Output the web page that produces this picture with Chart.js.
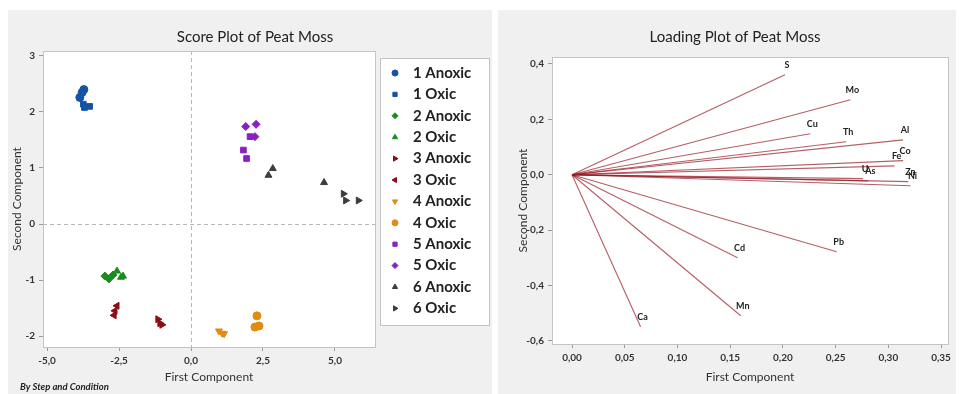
<!DOCTYPE html>
<html>
<head>
<meta charset="utf-8">
<script src="https://cdn.jsdelivr.net/npm/chart.js@4.4.1/dist/chart.umd.min.js"></script>
<style>
  html, body { margin: 0; padding: 0; background: #ffffff; width: 959px; height: 394px; overflow: hidden; }
  .panel { position: absolute; background: #f0f0f0; }
  canvas { display: block; }
</style>
</head>
<body>
<div class="panel" style="left:8px;top:10px;width:484px;height:384px"><canvas id="scorePlot" width="484" height="384"></canvas></div>
<div class="panel" style="left:498px;top:10px;width:458px;height:384px"><canvas id="loadingPlot" width="458" height="384"></canvas></div>
<script>
// ---- Score plot: sample groups (step and condition) ----
const groupNames = ['1 Anoxic', '1 Oxic', '2 Anoxic', '2 Oxic', '3 Anoxic', '3 Oxic',
                    '4 Anoxic', '4 Oxic', '5 Anoxic', '5 Oxic', '6 Anoxic', '6 Oxic'];

// First-component scores for each group
const scoreFirst = [
  [-3.72, -3.78, -3.86],
  [-3.74, -3.70, -3.52],
  [-2.99, -2.85, -2.71],
  [-2.57, -2.43, -2.36],
  [-1.15, -1.08, -1.01],
  [-2.57, -2.64, -2.67],
  [0.97, 1.08, 1.15],
  [2.29, 2.22, 2.36],
  [1.82, 1.93, 2.05],
  [1.90, 2.26, 2.22],
  [2.69, 2.84, 4.62],
  [5.29, 5.37, 5.81]
];

// Second-component scores for each group
const scoreSecond = [
  [2.40, 2.35, 2.26],
  [2.14, 2.08, 2.10],
  [-0.93, -0.98, -0.91],
  [-0.84, -0.95, -0.93],
  [-1.70, -1.77, -1.80],
  [-1.46, -1.55, -1.63],
  [-1.91, -1.95, -1.96],
  [-1.64, -1.84, -1.82],
  [1.32, 1.17, 1.56],
  [1.74, 1.78, 1.56],
  [0.87, 0.99, 0.74],
  [0.54, 0.42, 0.42]
];

const scoreXTicks = [-5, -2.5, 0, 2.5, 5];
const scoreXTickLabels = ['-5,0', '-2,5', '0,0', '2,5', '5,0'];
const scoreYTicks = [-2, -1, 0, 1, 2, 3];
const scoreYTickLabels = ['-2', '-1', '0', '1', '2', '3'];

// ---- Loading plot: elements ----
const elements = ['S', 'Mo', 'Cu', 'Th', 'Al', 'Co', 'Fe', 'U', 'As', 'Zn', 'Ni', 'Pb', 'Cd', 'Mn', 'Ca'];
const loadingFirst  = [0.202, 0.264, 0.226, 0.260, 0.314, 0.314, 0.306, 0.276, 0.281, 0.319, 0.321, 0.251, 0.157, 0.160, 0.065];
const loadingSecond = [0.361, 0.271, 0.148, 0.119, 0.126, 0.051, 0.032, -0.014, -0.022, -0.025, -0.040, -0.278, -0.300, -0.509, -0.549];

const loadXTicks = [0, 0.05, 0.10, 0.15, 0.20, 0.25, 0.30, 0.35];
const loadXTickLabels = ['0,00', '0,05', '0,10', '0,15', '0,20', '0,25', '0,30', '0,35'];
const loadYTicks = [-0.6, -0.4, -0.2, 0, 0.2, 0.4];
const loadYTickLabels = ['-0,6', '-0,4', '-0,2', '0,0', '0,2', '0,4'];

// ---- Styling ----
const stepColors = ['#1553a6', '#1553a6', '#1b8c1d', '#1b8c1d', '#8e0c14', '#8e0c14',
                    '#e08b12', '#e08b12', '#8b1fc4', '#8b1fc4', '#3d3d3d', '#3d3d3d'];
const groupSymbols = ['circle', 'rect', 'rectRot', 'triangle', 'triangle', 'triangle',
                      'triangle', 'circle', 'rect', 'rectRot', 'triangle', 'triangle'];
const groupRotation = [0, 0, 0, 0, 90, -90, 180, 0, 0, 0, 0, 90];

const FONT = 'Lato, "Open Sans", sans-serif';
Chart.defaults.font.family = FONT;
Chart.defaults.color = '#333';

// Pin axis sizes so the plot area lands where it should
function fixedAxis(size) {
  return scale => {
    if (scale.isHorizontal()) scale.height = size; else scale.width = size;
    scale.paddingLeft = scale.paddingRight = scale.paddingTop = scale.paddingBottom = 0;
  };
}
function setTicks(values) {
  return scale => { scale.ticks = values.map(v => ({ value: v })); };
}
function axis(min, max, tickValues, tickLabels, size, titleText, titlePad) {
  return {
    type: 'linear', min, max,
    afterBuildTicks: setTicks(tickValues),
    afterFit: fixedAxis(size),
    border: { display: false },
    grid: { drawOnChartArea: false, drawTicks: true, tickLength: 4, tickColor: '#9a9a9a' },
    ticks: {
      autoSkip: false, maxRotation: 0, padding: 4, color: '#333',
      font: { size: 10, weight: 'bold' },
      callback: (v, i) => tickLabels[i]
    },
    title: { display: true, text: titleText, color: '#333', font: { size: 12 }, padding: titlePad }
  };
}

// White plot area, light frame, optional dashed zero reference lines
const plotFrame = {
  id: 'plotFrame',
  beforeDraw(chart) {
    const { ctx, chartArea: a } = chart;
    ctx.save();
    ctx.fillStyle = '#ffffff';
    ctx.fillRect(a.left, a.top, a.right - a.left, a.bottom - a.top);
    ctx.restore();
  },
  beforeDatasetsDraw(chart, args, opts) {
    const { ctx, chartArea: a, scales: { x, y } } = chart;
    ctx.save();
    if (opts.zeroLines) {
      ctx.strokeStyle = '#b8b8b8';
      ctx.lineWidth = 1;
      ctx.setLineDash([4, 3]);
      const x0 = Math.round(x.getPixelForValue(0)) + 0.5;
      const y0 = Math.round(y.getPixelForValue(0)) + 0.5;
      ctx.beginPath();
      ctx.moveTo(x0, a.top); ctx.lineTo(x0, a.bottom);
      ctx.moveTo(a.left, y0); ctx.lineTo(a.right, y0);
      ctx.stroke();
      ctx.setLineDash([]);
    }
    ctx.strokeStyle = '#c4c4c4';
    ctx.lineWidth = 1;
    ctx.strokeRect(Math.round(a.left) + 0.5, Math.round(a.top) + 0.5,
                   Math.round(a.right - a.left), Math.round(a.bottom - a.top));
    ctx.restore();
  }
};

// Chart heading drawn over the panel
const heading = {
  id: 'heading',
  afterDraw(chart, args, opts) {
    const ctx = chart.ctx;
    ctx.save();
    ctx.font = '15px ' + FONT;
    ctx.fillStyle = '#222';
    ctx.textAlign = 'center';
    ctx.textBaseline = 'middle';
    ctx.fillText(opts.text, opts.x, opts.y);
    if (opts.note) {
      ctx.font = 'italic bold 9.5px ' + FONT;
      ctx.textAlign = 'left';
      ctx.fillText(opts.note, opts.noteX, opts.noteY);
    }
    ctx.restore();
  }
};

// Boxed group legend to the right of the score plot
const groupLegend = {
  id: 'groupLegend',
  afterDraw(chart, args, opts) {
    const ctx = chart.ctx;
    const H = Chart.helpers;
    ctx.save();
    ctx.fillStyle = '#ffffff';
    ctx.fillRect(opts.left, opts.top, opts.width, opts.height);
    ctx.strokeStyle = '#c4c4c4';
    ctx.lineWidth = 1;
    ctx.strokeRect(opts.left + 0.5, opts.top + 0.5, opts.width, opts.height);
    ctx.font = 'bold 15px ' + FONT;
    ctx.textBaseline = 'middle';
    ctx.textAlign = 'left';
    chart.data.datasets.forEach((ds, i) => {
      const cy = opts.firstY + i * opts.step;
      ctx.fillStyle = ds.backgroundColor;
      ctx.strokeStyle = ds.borderColor;
      H.drawPoint(ctx, { pointStyle: ds.pointStyle, rotation: ds.pointRotation, radius: 3, borderWidth: 1 }, opts.markerX, cy);
      ctx.fillStyle = '#222';
      ctx.fillText(ds.label, opts.textX, cy);
    });
    ctx.restore();
  }
};

// Element names at the tips of the loading vectors
const vectorLabels = {
  id: 'vectorLabels',
  afterDatasetsDraw(chart) {
    const { ctx, scales: { x, y } } = chart;
    ctx.save();
    ctx.font = 'bold 9px ' + FONT;
    ctx.fillStyle = '#222';
    ctx.textAlign = 'center';
    ctx.textBaseline = 'middle';
    elements.forEach((name, i) => {
      ctx.fillText(name, x.getPixelForValue(loadingFirst[i]) + 2, y.getPixelForValue(loadingSecond[i]) - 10);
    });
    ctx.restore();
  }
};

// ---- Score plot ----
const scoreDatasets = groupNames.map((name, g) => ({
  label: name,
  data: scoreFirst[g].map((v, k) => ({ x: v, y: scoreSecond[g][k] })),
  backgroundColor: stepColors[g],
  borderColor: stepColors[g],
  pointStyle: groupSymbols[g],
  pointRotation: groupRotation[g],
  pointRadius: 4,
  pointBorderWidth: 1
}));

new Chart(document.getElementById('scorePlot'), {
  type: 'scatter',
  data: { datasets: scoreDatasets },
  plugins: [plotFrame, heading, groupLegend],
  options: {
    responsive: false, animation: false, devicePixelRatio: 1,
    layout: { padding: { left: 0, top: 41, right: 117, bottom: 6 } },
    scales: {
      x: axis(-5.139, 6.389, scoreXTicks, scoreXTickLabels, 41, 'First Component', { top: 4, bottom: 4 }),
      y: axis(-2.196, 3.089, scoreYTicks, scoreYTickLabels, 35, 'Second Component', { top: 2, bottom: 4 })
    },
    plugins: {
      legend: { display: false },
      tooltip: { enabled: false },
      plotFrame: { zeroLines: true },
      heading: { text: 'Score Plot of Peat Moss', x: 247, y: 27, note: 'By Step and Condition', noteX: 12, noteY: 377 },
      groupLegend: { left: 372, top: 48, width: 109, height: 267, markerX: 387, textX: 405, firstY: 63, step: 21.4 }
    }
  }
});

// ---- Loading plot ----
const loadingDatasets = elements.map((name, i) => ({
  label: name,
  data: [{ x: 0, y: 0 }, { x: loadingFirst[i], y: loadingSecond[i] }],
  showLine: true,
  borderColor: 'rgba(150, 25, 35, 0.7)',
  borderWidth: 1.1,
  pointRadius: 0
}));

new Chart(document.getElementById('loadingPlot'), {
  type: 'scatter',
  data: { datasets: loadingDatasets },
  plugins: [plotFrame, heading, vectorLabels],
  options: {
    responsive: false, animation: false, devicePixelRatio: 1,
    layout: { padding: { left: 14, top: 47, right: 8, bottom: 6 } },
    scales: {
      x: axis(-0.019, 0.3566, loadXTicks, loadXTickLabels, 44, 'First Component', { top: 4, bottom: 4 }),
      y: axis(-0.611, 0.425, loadYTicks, loadYTickLabels, 40, 'Second Component', { top: 4, bottom: 4 })
    },
    plugins: {
      legend: { display: false },
      tooltip: { enabled: false },
      plotFrame: { zeroLines: false },
      heading: { text: 'Loading Plot of Peat Moss', x: 237, y: 27 }
    }
  }
});
</script>
</body>
</html>
